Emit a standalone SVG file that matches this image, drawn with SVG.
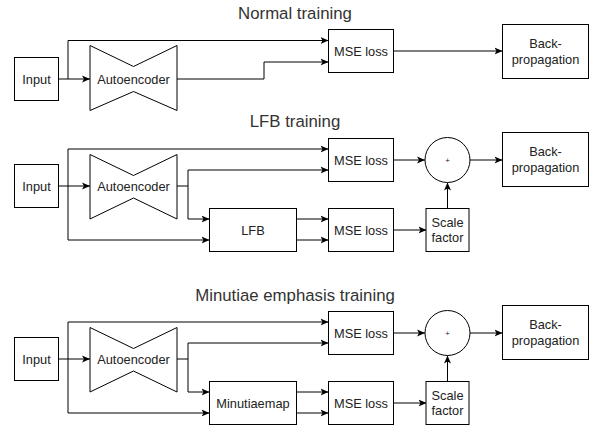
<svg xmlns="http://www.w3.org/2000/svg" width="589" height="427" viewBox="0 0 589 427">
<style>
.box{fill:#fff;stroke:#000;stroke-width:1}
.t{font-family:"Liberation Sans",Arial,sans-serif;font-size:12.8px;fill:#222;text-anchor:middle;dominant-baseline:central}
.p{font-size:8px}
.title{font-family:"Liberation Sans",Arial,sans-serif;font-size:16.8px;fill:#333;text-anchor:middle}
.c path{fill:none;stroke:#000;stroke-width:1}
</style>
<defs>
<marker id="a" viewBox="0 0 8 8" refX="8" refY="4" markerWidth="8" markerHeight="8" markerUnits="userSpaceOnUse" orient="auto">
<path d="M0,0.5 L8,4 L0,7.5 L2,4 Z" fill="#000"/>
</marker>
</defs>
<rect width="589" height="427" fill="#fff"/>

<text class="title" x="295" y="18.5">Normal training</text>
<text class="title" x="295" y="127.3">LFB training</text>
<text class="title" x="295" y="300.7">Minutiae emphasis training</text>

<!-- Connectors -->
<g class="c" id="connectors">
<!-- Normal -->
<path d="M58.5,79 H90" marker-end="url(#a)"/>
<path d="M68,79 V40.5 H328.5" marker-end="url(#a)"/>
<path d="M177,79 H264 V62 H328.5" marker-end="url(#a)"/>
<path d="M393.5,51 H502.5" marker-end="url(#a)"/>
<!-- LFB -->
<path d="M58.5,186 H90" marker-end="url(#a)"/>
<path d="M68,186 V149 H328.5" marker-end="url(#a)"/>
<path d="M68,186 V240 H209.5" marker-end="url(#a)"/>
<path d="M177,186 H188 V170 H328.5" marker-end="url(#a)"/>
<path d="M188,186 V219 H209.5" marker-end="url(#a)"/>
<path d="M296.5,219 H328.5" marker-end="url(#a)"/>
<path d="M296.5,240 H328.5" marker-end="url(#a)"/>
<path d="M393.5,160 H425" marker-end="url(#a)"/>
<path d="M470,160 H502.5" marker-end="url(#a)"/>
<path d="M393.5,230 H426.5" marker-end="url(#a)"/>
<path d="M447.5,208.5 V182.5" marker-end="url(#a)"/>
<!-- Minutiae -->
<path d="M58.5,359 H90" marker-end="url(#a)"/>
<path d="M68,359 V322 H328.5" marker-end="url(#a)"/>
<path d="M68,359 V413 H209.5" marker-end="url(#a)"/>
<path d="M177,359 H188 V343 H328.5" marker-end="url(#a)"/>
<path d="M188,359 V392 H209.5" marker-end="url(#a)"/>
<path d="M296.5,392 H328.5" marker-end="url(#a)"/>
<path d="M296.5,413 H328.5" marker-end="url(#a)"/>
<path d="M393.5,333 H425" marker-end="url(#a)"/>
<path d="M470,333 H502.5" marker-end="url(#a)"/>
<path d="M393.5,403 H426.5" marker-end="url(#a)"/>
<path d="M447.5,381.5 V355.5" marker-end="url(#a)"/>
</g>

<!-- Normal training nodes -->
<g id="n-input"><rect class="box" x="14.5" y="57.5" width="44" height="43"/><text class="t" x="36.5" y="79">Input</text></g>
<g id="n-ae"><path class="box" d="M90,45.5 L133.5,66.5 L177,45.5 V110.5 L133.5,91.5 L90,110.5 Z"/><text class="t" x="133.5" y="79">Autoencoder</text></g>
<g id="n-mse"><rect class="box" x="328.5" y="29.5" width="65" height="43"/><text class="t" x="361" y="51">MSE loss</text></g>
<g id="n-bp"><rect class="box" x="502.5" y="24.5" width="86" height="54"/><text class="t" x="545.5" y="43">Back-</text><text class="t" x="545.5" y="59.5">propagation</text></g>

<!-- LFB training nodes -->
<g id="l-input"><rect class="box" x="14.5" y="164.5" width="44" height="43"/><text class="t" x="36.5" y="186">Input</text></g>
<g id="l-ae"><path class="box" d="M90,154.5 L133.5,175.5 L177,154.5 V219 L133.5,198 L90,219 Z"/><text class="t" x="133.5" y="186">Autoencoder</text></g>
<g id="l-mse1"><rect class="box" x="328.5" y="138.5" width="65" height="43"/><text class="t" x="361" y="160">MSE loss</text></g>
<g id="l-plus"><circle class="box" cx="447.5" cy="160" r="22.5"/><text class="t p" x="447.5" y="160">+</text></g>
<g id="l-bp"><rect class="box" x="502.5" y="132.5" width="86" height="54"/><text class="t" x="545.5" y="151">Back-</text><text class="t" x="545.5" y="167.5">propagation</text></g>
<g id="l-lfb"><rect class="box" x="209.5" y="208.5" width="87" height="43"/><text class="t" x="253" y="230">LFB</text></g>
<g id="l-mse2"><rect class="box" x="328.5" y="208.5" width="65" height="43"/><text class="t" x="361" y="230">MSE loss</text></g>
<g id="l-scale"><rect class="box" x="426" y="208.5" width="43" height="43"/><text class="t" x="447.5" y="222.5">Scale</text><text class="t" x="447.5" y="237.5">factor</text></g>

<!-- Minutiae emphasis training nodes -->
<g id="m-input"><rect class="box" x="14.5" y="337.5" width="44" height="43"/><text class="t" x="36.5" y="359">Input</text></g>
<g id="m-ae"><path class="box" d="M90,327.5 L133.5,348.5 L177,327.5 V392 L133.5,371 L90,392 Z"/><text class="t" x="133.5" y="359">Autoencoder</text></g>
<g id="m-mse1"><rect class="box" x="328.5" y="311.5" width="65" height="43"/><text class="t" x="361" y="333">MSE loss</text></g>
<g id="m-plus"><circle class="box" cx="447.5" cy="333" r="22.5"/><text class="t p" x="447.5" y="333">+</text></g>
<g id="m-bp"><rect class="box" x="502.5" y="305.5" width="86" height="54"/><text class="t" x="545.5" y="324">Back-</text><text class="t" x="545.5" y="340.5">propagation</text></g>
<g id="m-map"><rect class="box" x="209.5" y="381.5" width="87" height="43"/><text class="t" x="253" y="403">Minutiaemap</text></g>
<g id="m-mse2"><rect class="box" x="328.5" y="381.5" width="65" height="43"/><text class="t" x="361" y="403">MSE loss</text></g>
<g id="m-scale"><rect class="box" x="426" y="381.5" width="43" height="43"/><text class="t" x="447.5" y="395.5">Scale</text><text class="t" x="447.5" y="410.5">factor</text></g>
</svg>
